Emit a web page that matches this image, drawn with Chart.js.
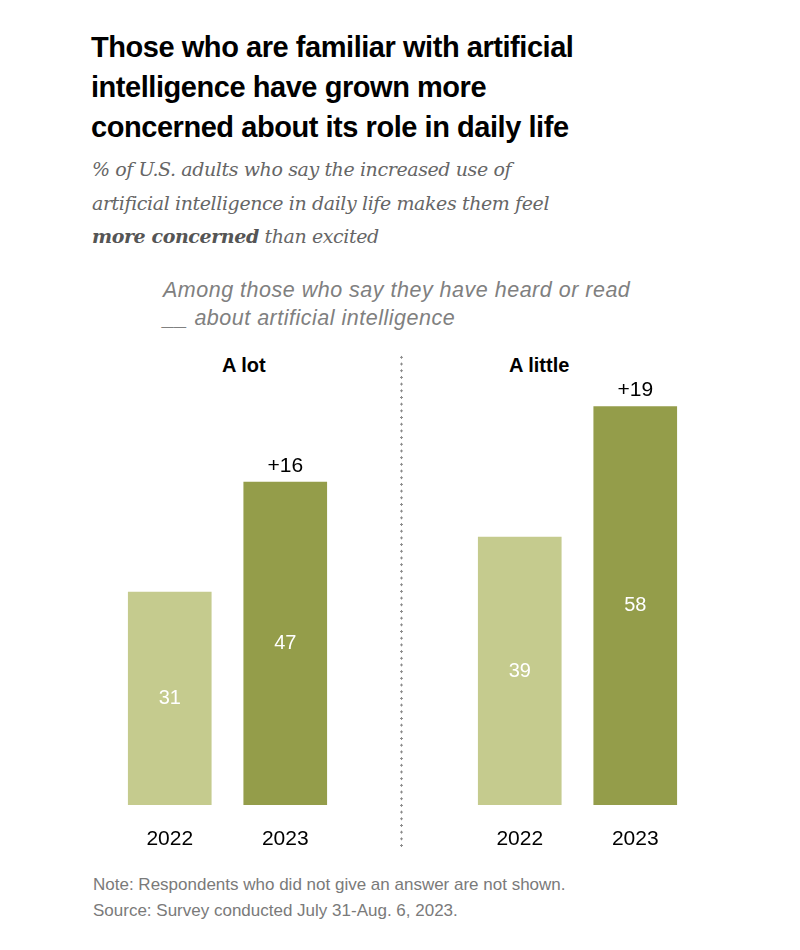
<!DOCTYPE html>
<html>
<head>
<meta charset="utf-8">
<script src="https://cdn.jsdelivr.net/npm/chart.js@4.4.0/dist/chart.umd.min.js"></script>
<style>
  body { margin: 0; background: #fff; }
  #wrap { position: relative; width: 800px; height: 950px; background: #fff; font-family: 'Liberation Sans', Arial, sans-serif; }
  .title { position: absolute; left: 91px; top: 27px; width: 680px; font-weight: bold; font-size: 29px; letter-spacing: -0.45px; line-height: 40px; color: #000; }
  .sub { position: absolute; left: 92px; top: 153px; width: 640px; font-family: 'DejaVu Serif', Georgia, serif; font-style: italic; font-size: 19px; letter-spacing: -0.4px; line-height: 33.5px; color: #666; }
  .sub b { color: #555; }
  .among { position: absolute; left: 163px; top: 276px; width: 600px; font-style: italic; font-size: 21.5px; letter-spacing: 0.5px; line-height: 28px; color: #808080; }
  .panel { position: absolute; top: 354px; font-weight: bold; font-size: 20px; color: #000; }
  .note { position: absolute; left: 93px; top: 872px; font-size: 17px; line-height: 26px; color: #7a7a7a; }
  .divider { position: absolute; left: 400px; top: 354px; width: 3px; height: 496px; background-image: radial-gradient(circle, #8a8a8a 1px, transparent 1.3px); background-size: 3px 6.7px; }
  canvas { position: absolute; }
</style>
</head>
<body>
<div id="wrap">
  <div class="title">Those who are familiar with artificial<br>intelligence have grown more<br>concerned about its role in daily life</div>
  <div class="sub">% of U.S. adults who say the increased use of<br>artificial intelligence in daily life makes them feel<br><b>more concerned</b> than excited</div>
  <div class="among">Among those who say they have heard or read<br>__ about artificial intelligence</div>
  <div class="panel" style="left:222px">A lot</div>
  <div class="panel" style="left:509px">A little</div>
  <div class="divider"></div>
  <canvas id="lot" width="231" height="529" style="left:112px; top:324px;"></canvas>
  <canvas id="little" width="231" height="529" style="left:462px; top:324px;"></canvas>
  <div class="note">Note: Respondents who did not give an answer are not shown.<br>Source: Survey conducted July 31-Aug. 6, 2023.</div>
</div>
<script>
const years = ['2022', '2023'];
const aLot = [31, 47];
const aLittle = [39, 58];
const changeLabels = ['+16', '+19'];
const barColors = ['#c5cb8e', '#949d4a'];

// value inside each bar, change label above the 2023 bar
const labelPlugin = {
  id: 'barLabels',
  afterDatasetsDraw(chart, args, opts) {
    const ctx = chart.ctx;
    const meta = chart.getDatasetMeta(0);
    ctx.save();
    ctx.textAlign = 'center';
    ctx.textBaseline = 'middle';
    meta.data.forEach((bar, i) => {
      const v = chart.data.datasets[0].data[i];
      ctx.fillStyle = '#fff';
      ctx.font = "20px 'Liberation Sans', Arial, sans-serif";
      ctx.fillText(v, bar.x, (bar.y + bar.base) / 2);
      if (i === 1) {
        ctx.fillStyle = '#000';
        ctx.font = "21px 'Liberation Sans', Arial, sans-serif";
        ctx.fillText(opts.change, bar.x, bar.y - 16);
      }
    });
    ctx.restore();
  }
};

function makeChart(id, values, change) {
  const ctx = document.getElementById(id).getContext('2d');
  return new Chart(ctx, {
    type: 'bar',
    data: {
      labels: years,
      datasets: [{
        data: values,
        backgroundColor: barColors,
        barThickness: 83
      }]
    },
    options: {
      responsive: false,
      animation: false,
      layout: { padding: 0 },
      plugins: {
        legend: { display: false },
        tooltip: { enabled: false },
        barLabels: { change: change }
      },
      scales: {
        x: {
          grid: { display: false },
          border: { display: false },
          ticks: {
            color: '#000',
            padding: 14,
            font: { size: 21, family: "'Liberation Sans', Arial, sans-serif" }
          },
          afterFit: s => { s.height = 48; }
        },
        y: {
          display: false,
          min: 0,
          max: 70
        }
      }
    },
    plugins: [labelPlugin]
  });
}

makeChart('lot', aLot, changeLabels[0]);
makeChart('little', aLittle, changeLabels[1]);
</script>
</body>
</html>
